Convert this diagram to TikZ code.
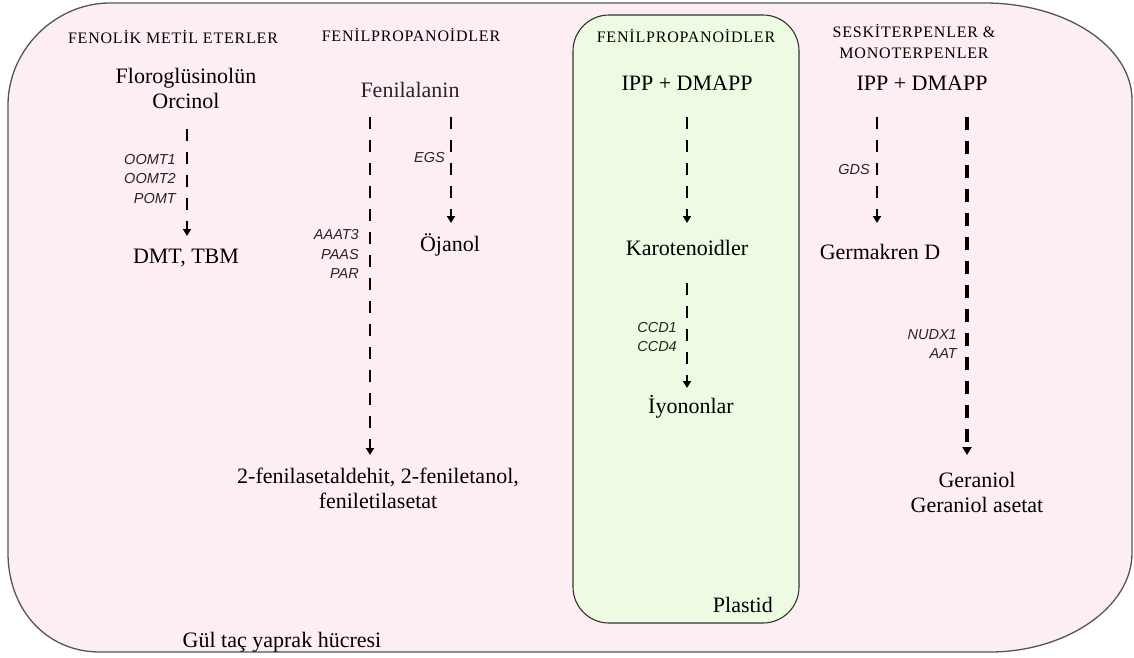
\documentclass[tikz,border=0pt]{standalone}
\usepackage{fontspec}
\setmainfont{Liberation Serif}
\newfontfamily\enzfont{Liberation Sans}
\newfontfamily\hdrfont[LetterSpace=5]{Liberation Serif}
\usetikzlibrary{arrows.meta}
\definecolor{cellpink}{HTML}{FDEEF3}
\definecolor{plastgreen}{HTML}{EDFBE3}
\definecolor{edgegray}{HTML}{555555}
\tikzset{
  main/.style={font=\fontsize{22}{25}\selectfont, inner sep=0pt, align=center},
  header/.style={font=\hdrfont\fontsize{16}{21}\selectfont, inner sep=0pt, align=center},
  enz/.style={font=\enzfont\itshape\fontsize{14.5}{19.5}\selectfont, inner sep=0pt, anchor=east, align=right, text=black!85},
  flow/.style={line width=2.6pt, dash pattern=on 12pt off 11pt, -{Triangle[length=7pt,width=8pt]}},
  flowthick/.style={line width=3.6pt, dash pattern=on 13pt off 11pt, -{Triangle[length=8pt,width=9pt]}},
}
\begin{document}
\begin{tikzpicture}[x=1pt,y=-1pt]
\useasboundingbox (0,0) rectangle (1134,657);
% cell
\path[fill=cellpink, draw=edgegray, line width=1.3pt]
  (110,3) -- (985,3) .. controls (1065,3) and (1132,46) .. (1132,100)
  -- (1132,553) .. controls (1132,608) and (1065,652) .. (990,652)
  -- (100,652) .. controls (45,652) and (8,608) .. (8,553)
  -- (8,105) .. controls (8,50) and (55,3) .. (110,3) -- cycle;
% plastid
\path[fill=plastgreen, draw=black!80, line width=1.1pt, rounded corners=36pt]
  (573,15) rectangle (799,623);

% headers
\node[header] (h1) at (173,37) {FENOLİK METİL ETERLER};
\node[header] (h2) at (411,35) {FENİLPROPANOİDLER};
\node[header] (h3) at (686,36) {FENİLPROPANOİDLER};
\node[header] (h4) at (914,41) {SESKİTERPENLER \&\\MONOTERPENLER};

% column 1
\node[main] (flor) at (186,88) {Floroglüsinolün\\Orcinol};
\node[main] (dmt) at (186,258) {DMT, TBM};
\coordinate (a1s) at (187,129);
\coordinate (a1e) at (187,236);
\draw[flow] (a1s) -- (a1e);
\node[enz] (e1) at (176,179) {OOMT1\\OOMT2\\POMT};

% column 2
\node[main, text=black!85] (fen) at (410,90) {Fenilalanin};
\coordinate (a2s) at (370,117);
\coordinate (a2e) at (370,455);
\coordinate (a3s) at (451,117);
\coordinate (a3e) at (451,223);
\draw[flow] (a2s) -- (a2e);
\draw[flow] (a3s) -- (a3e);
\node[enz] (egs) at (445,158) {EGS};
\node[main] (oja) at (450,245) {Öjanol};
\node[enz] (e2) at (359,254) {AAAT3\\PAAS\\PAR};
\node[main] (fprod) at (378,488) {2-fenilasetaldehit, 2-feniletanol,\\feniletilasetat};

% plastid column
\node[main] (ipp1) at (687,83) {IPP + DMAPP};
\node[main] (karo) at (687,248) {Karotenoidler};
\node[main] (iyo) at (691,407) {İyononlar};
\draw[flow] (ipp1.south |- 0,117) -- (ipp1.south |- 0,223);
\coordinate (a5s) at (687,283);
\coordinate (a5e) at (687,388);
\draw[flow] (a5s) -- (a5e);
\node[enz] (e3) at (677,337) {CCD1\\CCD4};
\node[main, anchor=east] (pl) at (773,605) {Plastid};

% terpenes column
\node[main] (ipp2) at (922,83) {IPP + DMAPP};
\coordinate (a6s) at (877,117);
\coordinate (a6e) at (877,223);
\draw[flow] (a6s) -- (a6e);
\node[enz] (gds) at (870,170) {GDS};
\node[main] (germ) at (880,252) {Germakren D};
\coordinate (a7s) at (967,117);
\coordinate (a7e) at (967,455);
\draw[flowthick] (a7s) -- (a7e);
\node[enz] (e4) at (957,344) {NUDX1\\AAT};
\node[main] (ger) at (977,492) {Geraniol\\Geraniol asetat};

\node[main] (cell) at (282,642) {Gül taç yaprak hücresi};
\end{tikzpicture}
\end{document}
